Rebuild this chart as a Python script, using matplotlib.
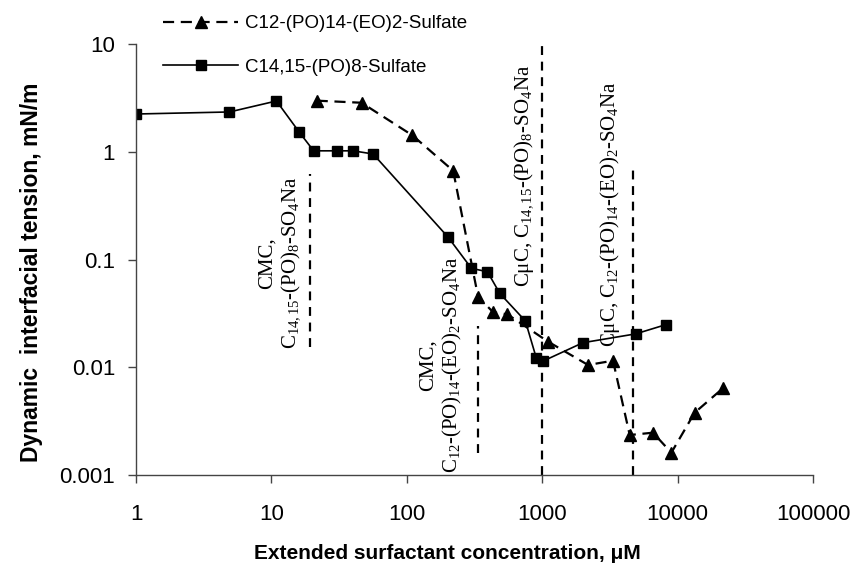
import numpy as np
import matplotlib.pyplot as plt
from matplotlib.ticker import FixedLocator, FixedFormatter, NullLocator

plt.rcParams['font.family'] = ['Liberation Sans', 'DejaVu Sans']
plt.rcParams['mathtext.fontset'] = 'custom'
plt.rcParams['mathtext.rm'] = 'Liberation Serif'
plt.rcParams['mathtext.it'] = 'Liberation Serif:italic'

# C14,15-(PO)8-Sulfate (squares, solid)
conc_po8 = [1, 4.9, 10.9, 16, 20.5, 30.3, 40.2, 56.4, 202, 300, 394, 486, 751, 906, 1014, 2000, 4900, 8150]
ift_po8 = [2.24, 2.34, 2.96, 1.53, 1.02, 1.02, 1.02, 0.953, 0.161, 0.0828, 0.077, 0.0485,
           0.0269, 0.0121, 0.0114, 0.0169, 0.0204, 0.0248]

# C12-(PO)14-(EO)2-Sulfate (triangles, dashed)
conc_eo2 = [21.6, 46.3, 110, 220, 336, 434, 553, 1104, 2180, 3335, 4430, 6580, 8990, 13350, 21600]
ift_eo2 = [2.98, 2.85, 1.42, 0.667, 0.0452, 0.0324, 0.031, 0.0173, 0.0105, 0.0115,
           0.00235, 0.00247, 0.00161, 0.00378, 0.00638]

# CMC / CuC marker lines
mark_x = [19.2, 333, 1000, 4700]
mark_top = [0.62, 0.024, 10, 0.68]
mark_bottom = [0.0154, 0.0016, 0.001, 0.001]

xticks = [1, 10, 100, 1000, 10000, 100000]
xticklabels = ['1', '10', '100', '1000', '10000', '100000']
yticks = [0.001, 0.01, 0.1, 1, 10]
yticklabels = ['0.001', '0.01', '0.1', '1', '10']

fig = plt.figure(figsize=(8.6, 5.76), dpi=100)
ax = fig.add_axes([136 / 860, 1 - 475 / 576, 677 / 860, 431 / 576])
ax.set_xscale('log')
ax.set_yscale('log')
ax.set_xlim(1, 100000)
ax.set_ylim(0.001, 10)

ax.plot(conc_eo2, ift_eo2, color='black', lw=1.6, dashes=(5, 3), marker='^', ms=8,
        label='C12-(PO)14-(EO)2-Sulfate')
ax.plot(conc_po8, ift_po8, color='black', lw=1.2, marker='s', ms=6.8,
        label='C14,15-(PO)8-Sulfate')

for x, t, b in zip(mark_x, mark_top, mark_bottom):
    ax.plot([x, x], [b, t], color='black', lw=1.6, dashes=(4, 3))

ann_kw = dict(rotation=90, fontsize=15, ha='center', multialignment='center',
              linespacing=1.15, family='Liberation Serif')
ax.text(11.6, 0.093, 'CMC,\n' + r'C$_{14,15}$-(PO)$_8$-SO$_4$Na', va='center', **ann_kw)
ax.text(180, 0.0105, 'CMC,\n' + r'C$_{12}$-(PO)$_{14}$-(EO)$_2$-SO$_4$Na', va='center', **ann_kw)
ax.text(743, 0.0556, 'C\u03bcC, ' + r'C$_{14,15}$-(PO)$_8$-SO$_4$Na', va='bottom', **ann_kw)
ax.text(3150, 0.0154, 'C\u03bcC, ' + r'C$_{12}$-(PO)$_{14}$-(EO)$_2$-SO$_4$Na', va='bottom', **ann_kw)

for s in ['top', 'right']:
    ax.spines[s].set_visible(False)
for s in ['left', 'bottom']:
    ax.spines[s].set_color('#444444')
    ax.spines[s].set_linewidth(1.0)

ax.xaxis.set_major_locator(FixedLocator(xticks))
ax.xaxis.set_major_formatter(FixedFormatter(xticklabels))
ax.yaxis.set_major_locator(FixedLocator(yticks))
ax.yaxis.set_major_formatter(FixedFormatter(yticklabels))
ax.xaxis.set_minor_locator(NullLocator())
ax.yaxis.set_minor_locator(NullLocator())
ax.tick_params(axis='x', direction='out', length=6, width=1, color='#444444', labelsize=16, pad=15)
ax.tick_params(axis='y', direction='out', length=6, width=1, color='#444444', labelsize=16, pad=9)

ax.set_xlabel('Extended surfactant concentration, \u03bcM', fontsize=15, fontweight='bold')
ax.xaxis.set_label_coords(0.46, -0.16)
ax.set_ylabel('Dynamic  interfacial tension, mN/m', fontsize=16.5, fontweight='bold')
ax.yaxis.set_label_coords(-0.138, 0.47)

ax.legend(loc='upper left', bbox_to_anchor=(163 / 860, 1 - 15 / 576), bbox_transform=fig.transFigure,
          frameon=False, fontsize=13.5, handlelength=4.0, handletextpad=0.4, labelspacing=1.4,
          borderpad=0, borderaxespad=0)

fig.savefig('out.png', dpi=100)
